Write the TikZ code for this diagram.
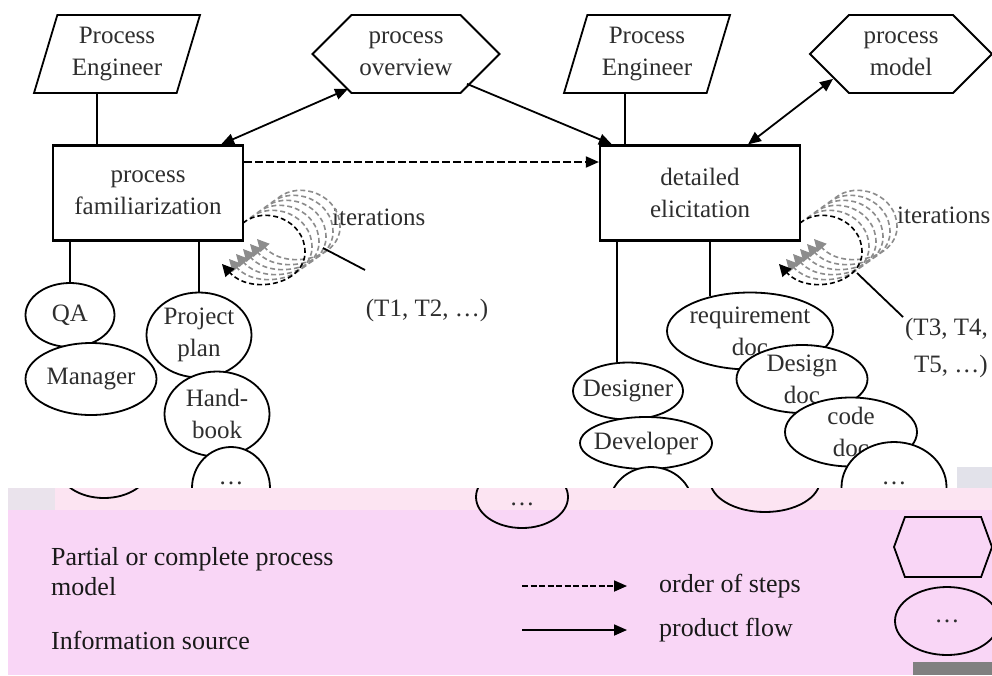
\documentclass[tikz,border=0pt]{standalone}
\usepackage{fontspec}
\setmainfont{Liberation Serif}
\usetikzlibrary{shapes.geometric,shapes.symbols,arrows.meta}

\definecolor{bandpink}{HTML}{F9D6F6}
\definecolor{striplight}{HTML}{FCE4F2}
\definecolor{loopgray}{HTML}{8C8C8C}
\definecolor{scanblock}{HTML}{E2E2EA}

\begin{document}
\begin{tikzpicture}[x=1pt, y=-1pt, line width=1.8pt, text=black!82,
          font=\fontsize{25}{32}\selectfont, >={Triangle[length=13pt,width=11pt]},
          actor/.style={trapezium, trapezium left angle=68, trapezium right angle=112,
            trapezium stretches body, draw, fill=white, align=center, inner sep=2pt,
            minimum width=166pt, minimum height=78pt},
          prodmodel/.style={signal, signal to=west and east, signal pointer angle=90,
            draw, fill=white, align=center, inner sep=2pt, minimum height=78pt},
          stepbox/.style={rectangle, draw, fill=white, align=center, line width=2.2pt,
            minimum height=95pt},
          src/.style={ellipse, draw, fill=white, inner sep=0pt},
          iter/.style={dash pattern=on 5pt off 3pt, line width=1.6pt,
            -{Triangle[length=12pt,width=12pt]}}]
        \clip (0,0) rectangle (992,675);
        \fill[white] (0,0) rectangle (992,675);

        % top row: roles and process models
        \node[actor] (eng1) at (117,54) {Process\\Engineer};
        \node[prodmodel, minimum width=187pt] (ov) at (406,54) {process\\overview};
        \node[actor] (eng2) at (647,54) {Process\\Engineer};
        \node[prodmodel, minimum width=182pt] (mdl) at (901,54) {process\\model};

        % the two steps
        \node[stepbox, minimum width=190pt] (fam) at (148,193) {process\\familiarization};
        \node[stepbox, minimum width=200pt] (det) at (700,193) {detailed\\elicitation};

        \draw ([xshift=-20pt]eng1.south) -- ([xshift=-20pt]eng1.south |- fam.north);
        \draw ([xshift=-22pt]eng2.south) -- ([xshift=-22pt]eng2.south |- det.north);
        \draw[<->] ([xshift=-23pt]fam.north east) -- ([shift={(-58pt,5pt)}]ov.south);
        \draw[->] ([shift={(61pt,10pt)}]ov.south) -- ([xshift=13pt]det.north west);
        \draw[<->] ([shift={(-68pt,15pt)}]mdl.south) -- ([xshift=48pt]det.north);
        \draw[->, dash pattern=on 8pt off 3pt] ([yshift=31pt]fam.east) -- ([yshift=31pt]det.west);

        % iteration swirls
        \node[anchor=west] (it1) at (328,217) {iterations};
        \node[anchor=west] (it2) at (893,215) {iterations};
        \foreach \dx in {0,557} {
          \begin{scope}[shift={(\dx,0)}]
            \foreach \k in {5,4,3,2,1}
              \draw[iter, loopgray, shift={(7*\k,-5*\k)}] (243,223) .. controls (265,205) and (305,220) .. (305,252)
                .. controls (305,285) and (250,295) .. (222,264);
            \draw[iter] (243,223) .. controls (265,205) and (305,220) .. (305,252)
              .. controls (305,285) and (250,295) .. (222,264);
          \end{scope}
        }
        \node (t1) at (427,310) {(T1, T2, …)};
        \node[anchor=east, align=right] (t2) at (992,348) {(T3, T4,\\[5pt]T5, …)};
        \coordinate (lp1) at (323,248);
        \coordinate (le1) at (365,270);
        \coordinate (lp2) at (857,273);
        \coordinate (le2) at (903,317);
        \draw (lp1) -- (le1);
        \draw (lp2) -- (le2);

        % information sources, left step
        \node[src, minimum width=89pt, minimum height=64pt, label={center:QA}] (qa) at (70,315) {};
        \node[src, minimum width=131pt, minimum height=72pt, label={center:Manager}] (mgr) at (91,379) {};
        \node[src, minimum width=105pt, minimum height=85pt, label={[align=center]center:Project\\plan}] (pp) at (199,335) {};
        \node[src, minimum width=105pt, minimum height=85pt, label={[align=center]center:Hand-\\book}] (hb) at (217,414) {};
        \node[src, minimum width=78pt, minimum height=82pt, label={[yshift=5pt]center:…}] (dots1) at (231,488) {};
        \draw (qa.north) -- (qa.north |- fam.south);
        \draw (pp.north) -- (pp.north |- fam.south);

        % information sources, right step
        \node[src, minimum width=110pt, minimum height=57pt, label={center:Designer}] (dsg) at (628,391) {};
        \node[src, minimum width=132pt, minimum height=52pt, label={center:Developer}] (dev) at (646,443) {};
        \node[src, minimum width=83pt, minimum height=76pt] (dots2) at (651,505) {};
        \node[src, minimum width=166pt, minimum height=77pt, label={[align=center]center:requirement\\doc}] (req) at (750,331) {};
        \node[src, minimum width=131pt, minimum height=68pt, label={[align=center]center:Design\\doc}] (dsd) at (802,379) {};
        \node[src, minimum width=132pt, minimum height=69pt, label={[align=center]center:code\\doc}] (cod) at (851,432) {};
        \node[src, minimum width=105pt, minimum height=90pt, label={[yshift=4pt]center:…}] (dots3) at (894,487) {};
        \draw (dsg.111) -- (dsg.111 |- det.south);
        \draw (req.139) -- (req.139 |- det.south);

        % legend band
        \fill[scanblock] (957,467) rectangle (992,488);
        \fill[striplight] (8,488) rectangle (992,510);
        \fill[bandpink] (8,510) rectangle (992,675);
        \fill[scanblock!70!striplight] (8,488) rectangle (55,510);
        \begin{scope}
          \clip (8,488) rectangle (992,675);
          \node[src, fill=none, minimum width=90pt, minimum height=60pt] (rem1) at (104,468) {};
          \node[src, fill=none, minimum width=92pt, minimum height=62pt, label={[yshift=-7pt]center:…}] (rem2) at (522,497) {};
          \node[src, fill=none, minimum width=110pt, minimum height=64pt] (rem3) at (765,480) {};
        \end{scope}

        \node[anchor=west, align=left, text=black!90, font=\fontsize{26}{30}\selectfont] (lpm) at (47,572) {Partial or complete process\\model};
        \node[anchor=west, text=black!90, font=\fontsize{26}{30}\selectfont] (lis) at (47,640) {Information source};
        \coordinate (od1) at (522,586);
        \coordinate (od2) at (627,586);
        \coordinate (pf1) at (522,630);
        \coordinate (pf2) at (627,630);
        \draw[->, dash pattern=on 6pt off 2.5pt] (od1) -- (od2);
        \draw[->] (pf1) -- (pf2);
        \node[anchor=west, text=black!90, font=\fontsize{26}{30}\selectfont] (los) at (655,586) {order of steps};
        \node[anchor=west, text=black!90, font=\fontsize{26}{30}\selectfont] (lpf) at (655,630) {product flow};
        \node[prodmodel, fill=none, minimum width=98pt, minimum height=60pt, signal pointer angle=140] (lhex) at (943,547) {};
        \node[src, fill=none, minimum width=104pt, minimum height=68pt, label={center:…}] (lsrc) at (947,621) {};
        \fill[black!50] (913,662) rectangle (992,675);
      \end{tikzpicture}
\end{document}
